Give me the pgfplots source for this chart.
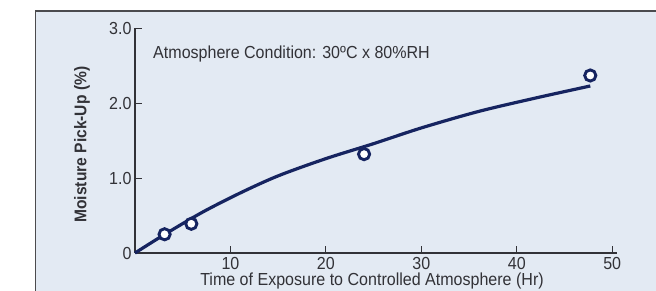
\documentclass[border=0pt]{standalone}
\usepackage{fontspec}
\setmainfont[FakeStretch=0.92]{Liberation Sans}
\usepackage{pgfplots}
\pgfplotsset{compat=1.18}
\definecolor{panel}{RGB}{227,234,243}
\definecolor{navy}{RGB}{22,36,96}
\definecolor{txt}{RGB}{50,50,55}
\definecolor{frame}{RGB}{75,75,78}
\begin{document}
\begin{tikzpicture}
\useasboundingbox (0,0) rectangle (656bp,291bp);
\clip (0,0) rectangle (656bp,291bp);
\fill[panel] (35.5bp,-20bp) rectangle (700bp,280bp);
\draw[line width=1.6bp, frame] (35.5bp,-20bp) -- (35.5bp,280bp) -- (700bp,280bp);
\begin{axis}[
  at={(135bp,38bp)}, anchor=south west,
  scale only axis, width=482bp, height=224.7bp,
  xmin=0, xmax=50.5, ymin=0, ymax=3,
  axis x line=bottom, axis y line=left,
  axis line style={-, line width=1.3bp, color=txt},
  xtick={10,20,30,40,50}, ytick={0,1,2,3}, yticklabels={0,1.0,2.0,3.0},
  tick align=inside, major tick length=6.5bp,
  tick style={line width=1.1bp, color=txt},
  font=\fontsize{17.5}{20}\selectfont,
  /pgf/number format/assume math mode=true,
  ticklabel style={text=txt},
  xticklabel style={yshift=-1bp},
  every axis y label/.style={at={(axis description cs:0,0.5)}, xshift=-53bp, yshift=-4bp, rotate=90, anchor=center, font=\fontsize{17}{19}\selectfont\bfseries, text=txt},
  every axis x label/.style={at={(axis description cs:0.5,0)}, xshift=-4bp, yshift=-32.5bp, anchor=base, text=txt},
  ylabel={Moisture Pick-Up (\%)},
  xlabel={Time of Exposure to Controlled Atmosphere (Hr)},
  clip=false,
]
\addplot[navy, line width=3.2bp, smooth] coordinates {
  (0,0) (3,0.24) (7,0.54) (11,0.80) (15,1.03) (20,1.26) (25,1.46)
  (30,1.67) (36,1.89) (42,2.07) (47.7,2.23)
};
\addplot[only marks, mark=*, mark size=5.6bp, mark options={line width=2.9bp, draw=navy, fill=white}] coordinates {
  (3.1,0.25) (5.9,0.39) (24,1.32) (47.7,2.37)
};
\node[anchor=base west, inner sep=0pt, text=txt] at (axis cs:1.89,2.6) {Atmosphere Condition: 30ºC x 80\%RH};
\end{axis}
\end{tikzpicture}
\end{document}
